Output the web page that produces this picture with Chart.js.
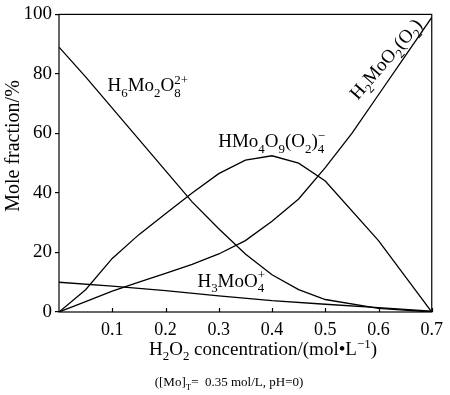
<!DOCTYPE html>
<html>
<head>
<meta charset="utf-8">
<script src="https://cdn.jsdelivr.net/npm/chart.js@4.4.0/dist/chart.umd.min.js"></script>
<style>
  html, body { margin: 0; padding: 0; background: #fff; }
  #wrap { width: 450px; height: 395px; }
</style>
</head>
<body>
<div id="wrap"><canvas id="speciation" width="450" height="395"></canvas></div>
<script>
// x : H2O2 concentration (mol/L)
const xH6 = [0, 0.05, 0.1, 0.15, 0.2, 0.25, 0.3, 0.35, 0.4, 0.45, 0.5, 0.6, 0.7];
const yH6 = [89, 79, 68.5, 58, 47.5, 37, 28, 19.5, 12.5, 7.5, 4.2, 1.2, 0];

const xHMo4 = [0, 0.05, 0.1, 0.15, 0.2, 0.25, 0.3, 0.35, 0.4, 0.45, 0.5, 0.6, 0.7];
const yHMo4 = [0, 7.5, 18, 26, 33, 40, 46.5, 51, 52.5, 50, 44, 24, 0];

const xH2 = [0, 0.05, 0.1, 0.15, 0.2, 0.25, 0.3, 0.35, 0.4, 0.45, 0.5, 0.55, 0.6, 0.65, 0.7];
const yH2 = [0, 3.5, 7, 10, 13, 16, 19.5, 24, 30.5, 38, 48.5, 60, 73, 86, 99];

const xH3 = [0, 0.1, 0.2, 0.3, 0.4, 0.5, 0.6, 0.7];
const yH3 = [10, 8.7, 7.2, 5.4, 3.8, 2.6, 1.5, 0.3];

const xTicks = [0.1, 0.2, 0.3, 0.4, 0.5, 0.6, 0.7];
const yTicks = [0, 20, 40, 60, 80, 100];

// 라벨 : [본문, 아래첨자, 위첨자]
const labH6 = [['H', '6'], ['Mo', '2'], ['O', '8', '2+']];
const labHMo4 = [['HMo', '4'], ['O', '9'], ['(O', '2'], [')', '4', '\u2212']];
const labH3 = [['H', '3'], ['MoO', '4', '+']];
const labH2 = [['H', '2'], ['MoO', '2'], ['(O', '2'], [')']];
const xTitle = [['H', '2'], ['O', '2'], [' concentration/(mol\u2022L', '', '\u22121'], [')']];
const subNote = [['([Mo]', 'T'], ['=  0.35 mol/L, pH=0)']];

const SERIF = '"Liberation Serif", "DejaVu Serif", serif';

function pts(xs, ys) {
  return xs.map(function(x, i) { return { x: x, y: ys[i] }; });
}

function richWidth(ctx, parts, size) {
  let w = 0;
  parts.forEach(function(p) {
    ctx.font = size + 'px ' + SERIF;
    w += ctx.measureText(p[0]).width;
    ctx.font = (size * 0.68) + 'px ' + SERIF;
    let sw = p[1] ? ctx.measureText(p[1]).width : 0;
    let pw = p[2] ? ctx.measureText(p[2]).width : 0;
    w += Math.max(sw, pw);
  });
  return w;
}

function drawRich(ctx, parts, x, y, size) {
  ctx.textBaseline = 'alphabetic';
  ctx.textAlign = 'left';
  let cx = x;
  parts.forEach(function(p) {
    ctx.font = size + 'px ' + SERIF;
    ctx.fillText(p[0], cx, y);
    cx += ctx.measureText(p[0]).width;
    ctx.font = (size * 0.68) + 'px ' + SERIF;
    let sw = 0, pw = 0;
    if (p[1]) { ctx.fillText(p[1], cx, y + size * 0.28); sw = ctx.measureText(p[1]).width; }
    if (p[2]) { ctx.fillText(p[2], cx, y - size * 0.38); pw = ctx.measureText(p[2]).width; }
    cx += Math.max(sw, pw);
  });
}

const textPlugin = {
  id: 'textPlugin',
  afterDraw: function(chart) {
    const ctx = chart.ctx;
    const area = chart.chartArea;
    const xs = chart.scales.x, ys = chart.scales.y;
    ctx.save();
    ctx.fillStyle = '#000';
    ctx.strokeStyle = '#000';

    // 프레임
    ctx.lineWidth = 1.2;
    ctx.strokeRect(area.left, area.top, area.right - area.left, area.bottom - area.top);

    // x축 눈금 (안쪽)
    xTicks.forEach(function(v) {
      let px = Math.round(xs.getPixelForValue(v)) + 0.5;
      ctx.beginPath();
      ctx.moveTo(px, area.bottom);
      ctx.lineTo(px, area.bottom - 4);
      ctx.stroke();
    });

    // 곡선 라벨
    drawRich(ctx, labH6, xs.getPixelForValue(0.091), ys.getPixelForValue(74.2), 19);
    drawRich(ctx, labHMo4, xs.getPixelForValue(0.299), ys.getPixelForValue(55.3), 19);
    drawRich(ctx, labH3, xs.getPixelForValue(0.26), ys.getPixelForValue(8.5), 19);

    ctx.save();
    ctx.translate(xs.getPixelForValue(0.561), ys.getPixelForValue(71));
    ctx.rotate(-49 * Math.PI / 180);
    drawRich(ctx, labH2, 0, 0, 19);
    ctx.restore();

    // 축 제목
    let w = richWidth(ctx, xTitle, 19);
    drawRich(ctx, xTitle, 263 - w / 2, 355, 19);
    w = richWidth(ctx, subNote, 13);
    drawRich(ctx, subNote, 229 - w / 2, 386, 13);

    ctx.save();
    ctx.translate(19, 146);
    ctx.rotate(-Math.PI / 2);
    ctx.font = '20px ' + SERIF;
    ctx.textAlign = 'center';
    ctx.textBaseline = 'alphabetic';
    ctx.fillText('Mole fraction/%', 0, 0);
    ctx.restore();

    ctx.restore();
  }
};

function lineSet(data) {
  return {
    data: data,
    showLine: true,
    borderColor: '#000',
    borderWidth: 1.3,
    pointRadius: 0,
    tension: 0,
    fill: false
  };
}

const ctx = document.getElementById('speciation').getContext('2d');
const speciationChart = new Chart(ctx, {
  type: 'scatter',
  data: {
    datasets: [
      lineSet(pts(xH6, yH6)),
      lineSet(pts(xHMo4, yHMo4)),
      lineSet(pts(xH2, yH2)),
      lineSet(pts(xH3, yH3))
    ]
  },
  options: {
    responsive: false,
    animation: false,
    layout: { padding: { left: 0, top: 6, right: 12, bottom: 0 } },
    plugins: {
      legend: { display: false },
      tooltip: { enabled: false }
    },
    scales: {
      x: {
        type: 'linear',
        min: 0,
        max: 0.7,
        afterFit: function(scale) { scale.height = 83; },
        afterBuildTicks: function(scale) {
          scale.ticks = xTicks.map(function(v) { return { value: v }; });
        },
        border: { display: false },
        grid: { display: false, drawTicks: false },
        ticks: {
          color: '#000',
          padding: 7,
          maxRotation: 0,
          font: { family: SERIF, size: 18 },
          callback: function(v) { return v.toFixed(1); }
        }
      },
      y: {
        min: 0,
        max: 100,
        afterFit: function(scale) { scale.width = 59; },
        afterBuildTicks: function(scale) {
          scale.ticks = yTicks.map(function(v) { return { value: v }; });
        },
        border: { display: false },
        grid: { drawOnChartArea: false, tickLength: 4, color: '#000', lineWidth: 1.2 },
        ticks: {
          color: '#000',
          padding: 3,
          font: { family: SERIF, size: 19 }
        }
      }
    }
  },
  plugins: [textPlugin]
});
</script>
</body>
</html>
